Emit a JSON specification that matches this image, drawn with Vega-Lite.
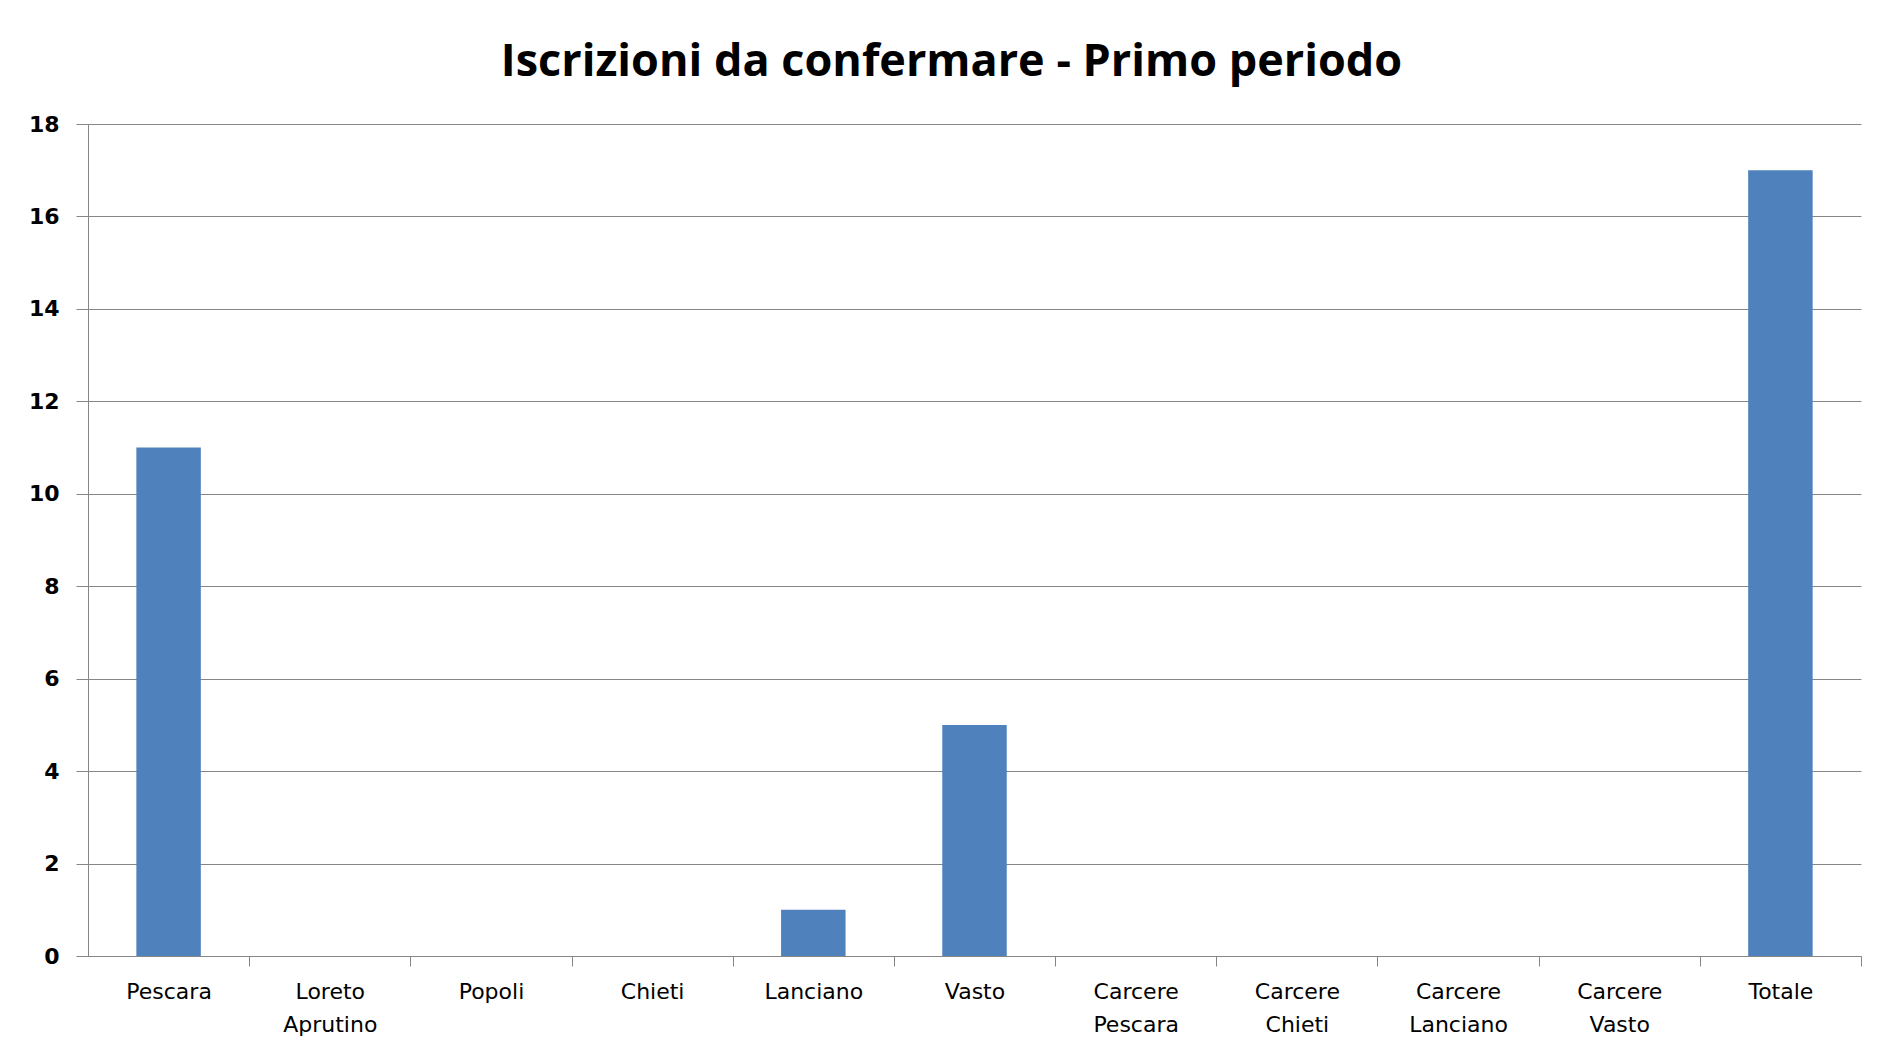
{
  "$schema": "https://vega.github.io/schema/vega-lite/v6.json",
  "autosize": "none",
  "width": 1773,
  "height": 832,
  "padding": {"left": 88, "top": 124, "right": 21, "bottom": 101},
  "background": "white",
  "title": {
    "text": "Iscrizioni da confermare - Primo periodo",
    "font": "Open Sans",
    "fontSize": 45,
    "fontWeight": "bold",
    "color": "#000000",
    "anchor": "middle",
    "dx": -23,
    "offset": 28
  },
  "data": {
    "values": [
      {"sede": "Pescara", "valore": 11},
      {"sede": "Loreto Aprutino", "valore": 0},
      {"sede": "Popoli", "valore": 0},
      {"sede": "Chieti", "valore": 0},
      {"sede": "Lanciano", "valore": 1},
      {"sede": "Vasto", "valore": 5},
      {"sede": "Carcere Pescara", "valore": 0},
      {"sede": "Carcere Chieti", "valore": 0},
      {"sede": "Carcere Lanciano", "valore": 0},
      {"sede": "Carcere Vasto", "valore": 0},
      {"sede": "Totale", "valore": 17}
    ]
  },
  "mark": {"type": "bar", "color": "#4F81BD"},
  "encoding": {
    "x": {
      "field": "sede",
      "type": "nominal",
      "sort": null,
      "title": null,
      "scale": {"paddingInner": 0.6, "paddingOuter": 0.3},
      "axis": {
        "labelAngle": 0,
        "labelExpr": "split(datum.label, ' ')",
        "labelFont": "DejaVu Sans",
        "labelFontSize": 22,
        "labelColor": "#000000",
        "labelLineHeight": 33,
        "labelBaseline": "top",
        "labelPadding": 15,
        "tickOffset": 80.6,
        "labelOffset": -80.6,
        "tickSize": 10,
        "tickColor": "#868686",
        "domainColor": "#868686",
        "grid": false
      }
    },
    "y": {
      "field": "valore",
      "type": "quantitative",
      "title": null,
      "scale": {"domain": [0, 18], "nice": false},
      "axis": {
        "values": [0, 2, 4, 6, 8, 10, 12, 14, 16, 18],
        "labelFont": "DejaVu Sans",
        "labelFontSize": 22,
        "labelFontWeight": "bold",
        "labelColor": "#000000",
        "labelPadding": 17,
        "tickSize": 12,
        "tickColor": "#868686",
        "domainColor": "#868686",
        "grid": true,
        "gridColor": "#868686",
        "gridOpacity": 1
      }
    }
  },
  "config": {"view": {"stroke": null}}
}
